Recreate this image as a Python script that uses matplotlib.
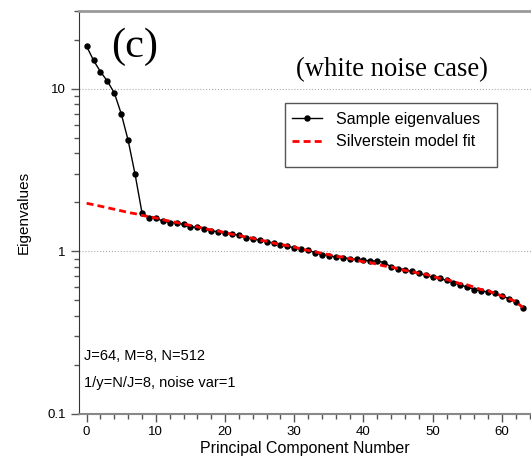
import matplotlib
matplotlib.use("Agg")
import matplotlib.pyplot as plt
import numpy as np
from matplotlib.patches import Rectangle
from matplotlib.ticker import LogLocator, FixedLocator, MultipleLocator, NullFormatter

# sample eigenvalues (index 0..63)
sample = [18.2, 14.9, 12.7, 11.1, 9.4, 7.0, 4.8, 2.97, 1.72, 1.61,
          1.60, 1.53, 1.50, 1.49, 1.46, 1.41, 1.40, 1.37, 1.33, 1.32,
          1.29, 1.28, 1.25, 1.21, 1.19, 1.17, 1.14, 1.12, 1.09, 1.07,
          1.05, 1.03, 1.01, 0.98, 0.95, 0.94, 0.92, 0.91, 0.90, 0.89,
          0.88, 0.87, 0.87, 0.85, 0.80, 0.78, 0.77, 0.75, 0.73, 0.71,
          0.69, 0.68, 0.66, 0.64, 0.62, 0.60, 0.58, 0.57, 0.56, 0.55,
          0.53, 0.51, 0.49, 0.45]

# Silverstein model fit
fit = [1.97, 1.93, 1.89, 1.85, 1.81, 1.77, 1.73, 1.70, 1.66, 1.63,
       1.60, 1.56, 1.53, 1.50, 1.47, 1.44, 1.41, 1.38, 1.35, 1.33,
       1.30, 1.27, 1.25, 1.22, 1.20, 1.17, 1.15, 1.12, 1.10, 1.08,
       1.06, 1.03, 1.01, 0.99, 0.97, 0.95, 0.93, 0.92, 0.90, 0.88,
       0.86, 0.85, 0.83, 0.81, 0.80, 0.78, 0.76, 0.75, 0.73, 0.72,
       0.70, 0.68, 0.67, 0.65, 0.63, 0.62, 0.60, 0.58, 0.57, 0.55,
       0.53, 0.51, 0.49, 0.45]

idx = np.arange(len(sample))

fig = plt.figure(figsize=(5.31, 4.66), dpi=100)
ax = fig.add_axes([0.1488, 0.1122, 0.8512, 0.8642])

ax.plot(idx, sample, color='black', lw=1.0, marker='o', ms=3.6,
        label='Sample eigenvalues', zorder=3)
ax.plot(idx, fit, color='red', lw=2, ls=(0, (2.5, 1.5)),
        label='Silverstein model fit', zorder=4)

ax.set_yscale('log')
ax.set_ylim(0.1, 30)
ax.set_xlim(-1.1, 64.2)

ax.yaxis.set_major_locator(FixedLocator([0.1, 1, 10]))
ax.yaxis.set_major_formatter(plt.FuncFormatter(lambda v, p: '%g' % v))
ax.yaxis.set_minor_locator(LogLocator(base=10, subs=np.arange(2, 10)))
ax.yaxis.set_minor_formatter(NullFormatter())
ax.xaxis.set_major_locator(MultipleLocator(10))
ax.xaxis.set_minor_locator(MultipleLocator(2))

ax.grid(axis='y', which='major', color='#aaaaaa', ls=':', lw=0.8)

ax.tick_params(axis='both', which='major', direction='out', length=6,
               width=1, color='#555555', labelsize=9.5)
ax.tick_params(axis='both', which='minor', direction='out', length=3.5,
               width=1, color='#555555')
ax.tick_params(axis='x', pad=3)

ax.spines['right'].set_visible(False)
ax.spines['left'].set_color('#333333')
ax.spines['bottom'].set_color('#888888')
ax.spines['bottom'].set_linewidth(1.5)
ax.spines['top'].set_color('#999999')
ax.spines['top'].set_linewidth(2)

ax.set_xlabel('Principal Component Number', fontsize=11.5, family='Liberation Sans', labelpad=2)
ax.set_ylabel('Eigenvalues', fontsize=11, family='Liberation Sans', labelpad=12)
for lab in ax.get_xticklabels() + ax.get_yticklabels():
    lab.set_family('Liberation Sans')

ax.text(0.071, 0.91, '(c)', transform=ax.transAxes, family='Liberation Serif',
        fontsize=30.5, ha='left', va='center')
ax.text(0.48, 0.855, '(white noise case)', transform=ax.transAxes,
        family='Liberation Serif', fontsize=19.2, ha='left', va='center')

# legend box is taller than its two entries, so draw the frame separately
ax.add_patch(Rectangle((0.456, 0.6126), 0.469, 0.159, transform=ax.transAxes,
                       fill=True, facecolor='white', edgecolor='#555555',
                       lw=1, zorder=5))
leg = ax.legend(loc='upper left', bbox_to_anchor=(0.456, 0.765),
                borderaxespad=0, frameon=False,
                borderpad=0.4, handlelength=1.9, labelspacing=0.45,
                handletextpad=0.9,
                prop={'family': 'Liberation Sans', 'size': 11.5})
leg.set_zorder(6)

ax.text(0.012, 0.143, 'J=64, M=8, N=512', transform=ax.transAxes,
        family='Liberation Sans', fontsize=10.5, ha='left', va='center')
ax.text(0.012, 0.076, '1/y=N/J=8, noise var=1', transform=ax.transAxes,
        family='Liberation Sans', fontsize=10.5, ha='left', va='center')

fig.savefig('out.png', dpi=100)
